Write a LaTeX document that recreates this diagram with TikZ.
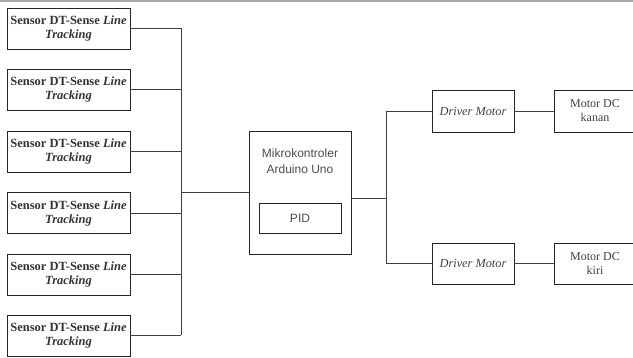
\documentclass[tikz,border=0pt]{standalone}
\usepackage{fontspec}
\setmainfont{Liberation Serif}
\setsansfont{Liberation Sans}
\begin{document}
\begin{tikzpicture}[x=1pt,y=-1pt,
  box/.style={draw=black!85,line width=0.9pt,inner sep=0pt,align=center},
  sensor/.style={box,minimum width=123pt,minimum height=41pt,font=\fontsize{12.5}{14}\selectfont\bfseries,text=black!80},
  drv/.style={box,minimum width=82pt,minimum height=42pt,font=\fontsize{12.3}{14}\selectfont\itshape,text=black!75},
  mot/.style={box,minimum width=82pt,minimum height=42pt,font=\fontsize{12}{14}\selectfont,text=black!75},
  wire/.style={draw=black!75,line width=0.8pt}]
\useasboundingbox (0,0) rectangle (633,358);
\begin{scope}
\clip (0,0) rectangle (633,358);
\draw[black!35,line width=1.2pt] (0,1) -- (633,1);
\foreach \i/\y in {1/28.5,2/89.5,3/151.5,4/213,5/274.5,6/335.5}{
  \node[sensor] (s\i) at (68.5,\y) {Sensor DT-Sense \textit{Line}\\\textit{Tracking}};
}
\coordinate (b1) at (181,28.5);
\coordinate (b6) at (181,335.5);
\coordinate (bm) at (181,192.5);
\node[box,minimum width=102pt,minimum height=123pt] (mc) at (300,192.5) {};
\node[align=center,font=\sffamily\fontsize{12}{16}\selectfont,text=black!70] (mct) at (300,161) {Mikrokontroler\\Arduino Uno};
\node[box,minimum width=82pt,minimum height=30pt,font=\sffamily\fontsize{12}{14}\selectfont,text=black!70] (pid) at (300,218) {PID};
\node[drv] (d1) at (473,111) {Driver Motor};
\node[drv,minimum height=41pt] (d2) at (473,263.5) {Driver Motor};
\node[mot] (m1) at (595,111) {Motor DC\\kanan};
\node[mot,minimum height=41pt] (m2) at (595,263.5) {Motor DC\\kiri};
\coordinate (mo) at ([yshift=-5.5pt]mc.east);
\coordinate (v) at (386,198);
\foreach \i in {1,...,6}{ \draw[wire] (s\i.east) -- (s\i.east -| b1); }
\draw[wire] (b1) -- (b6);
\draw[wire] (bm) -- (mc.west);
\draw[wire] (mo) -- (v);
\draw[wire] (d1.west -| v) -- (d2.west -| v);
\draw[wire] (d1.west -| v) -- (d1.west);
\draw[wire] (d2.west -| v) -- (d2.west);
\draw[wire] (d1) -- (m1);
\draw[wire] (d2) -- (m2);
\end{scope}
\end{tikzpicture}
\end{document}
